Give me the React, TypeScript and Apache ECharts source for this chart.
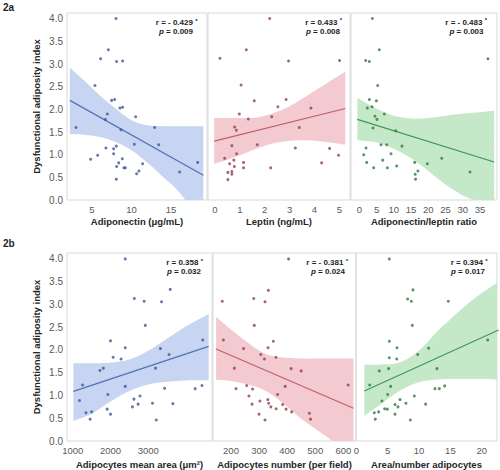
import React, { useEffect, useRef } from "react";
import * as echarts from "echarts";

const FONT = "'Liberation Sans', Arial, sans-serif";
const yTicks = [0, 0.5, 1, 1.5, 2, 2.5, 3, 3.5, 4];
const yTitle = "Dysfunctional adiposity index";

// ---- 2a: Adiponectin
const adipoTicks = [5, 10, 15];
const adipoX = [8.04, 7.07, 6.1, 8.12, 8.88, 5.38, 7.49, 7.87, 8.54, 8.88, 6.94, 6.69, 10.53, 2.97, 8.67, 12.93, 10.36, 13.44, 6.77, 8.08, 7.74, 4.83, 5.72, 7.74, 8.84, 8.38, 8.12, 9.05, 9.22, 11.41, 10.95, 10.65, 16.1, 18.38, 8.08];
const adipoY = [4.01, 3.32, 3.12, 3.06, 3.07, 2.53, 2.2, 2.22, 2.03, 2.05, 1.9, 1.78, 1.84, 1.6, 1.55, 1.6, 1.23, 1.22, 1.15, 1.19, 1.13, 0.9, 0.99, 1.02, 0.91, 0.82, 0.74, 0.71, 0.71, 0.8, 0.64, 0.58, 0.62, 0.83, 0.46];
const adipoFitX = [2.2, 19.1];
const adipoFitY = [2.2, 0.545];
const adipoBandX = [2.2, 4, 6, 8, 10, 12, 14, 16, 19.1];
const adipoBandUp = [2.92, 2.64, 2.31, 2.02, 1.76, 1.65, 1.63, 1.63, 1.63];
const adipoBandLo = [1.45, 1.44, 1.39, 1.28, 1.1, 0.83, 0.51, 0.18, -0.55];

// ---- 2a: Leptin
const leptinTicks = [0, 1, 2, 3, 4, 5];
const leptinX = [2.2, 1.26, 0.2, 2.96, 5.01, 1.05, 1.58, 2.86, 2.53, 3.86, 0.98, 1.34, 2.28, 0.79, 0.86, 3.39, 0.68, 1.7, 3.23, 4.61, 0.39, 0.87, 4.97, 0.59, 0.76, 1.15, 4.29, 0.78, 1.15, 2.24, 0.52, 0.68, 0.68, 0.52];
const leptinY = [4.01, 3.32, 3.13, 3.07, 3.08, 2.54, 2.19, 2.22, 2.06, 2.03, 1.9, 1.79, 1.84, 1.61, 1.54, 1.6, 1.2, 1.22, 1.15, 1.14, 0.92, 1.02, 0.99, 0.8, 0.88, 0.83, 0.82, 0.74, 0.71, 0.71, 0.61, 0.63, 0.57, 0.45];
const leptinFitX = [-0.03, 5.24];
const leptinFitY = [1.3, 2.02];
const leptinBandX = [-0.03, 0.5, 1, 1.5, 2, 2.5, 3, 3.5, 4, 4.5, 5.24];
const leptinBandUp = [1.81, 1.81, 1.81, 1.81, 1.86, 1.95, 2.07, 2.23, 2.41, 2.58, 2.83];
const leptinBandLo = [0.8, 0.89, 0.99, 1.1, 1.2, 1.27, 1.31, 1.32, 1.31, 1.28, 1.22];

// ---- 2a: Adiponectin/leptin ratio
const ratioTicks = [0, 5, 10, 15, 20, 25, 30, 35];
const ratioX = [3.78, 5.8, 1.85, 2.91, 37.3, 5.32, 2.91, 4.94, 2.33, 3.68, 7.25, 4.55, 5.13, 3.97, 10.54, 23.9, 1.94, 6.29, 7.93, 12.38, 1.27, 6.77, 9.19, 2.14, 4.16, 8.13, 10.83, 16.05, 19.72, 32.1, 17.0, 16.2, 16.3];
const ratioY = [4.01, 3.32, 3.08, 3.06, 3.12, 2.53, 2.22, 2.19, 2.03, 2.06, 1.9, 1.85, 1.78, 1.59, 1.53, 0.92, 1.15, 1.22, 1.22, 1.19, 1.0, 0.88, 1.02, 0.83, 0.71, 0.71, 0.75, 0.83, 0.8, 0.62, 0.64, 0.57, 0.46];
const ratioFitX = [-0.57, 39.1];
const ratioFitY = [1.78, 0.84];
const ratioBandX = [-0.57, 5, 10, 15, 20, 25, 30, 35, 39.1];
const ratioBandUp = [2.25, 2.02, 1.86, 1.8, 1.81, 1.86, 1.91, 1.94, 1.97];
const ratioBandLo = [1.32, 1.27, 1.13, 0.92, 0.64, 0.34, 0.1, -0.05, -0.22];

// ---- 2b: Adipocytes mean area
const areaTicks = [1000, 2000, 3000];
const areaX = [2390, 3580, 2630, 2890, 3350, 2920, 2000, 4440, 2390, 3320, 2070, 2280, 3550, 1720, 1810, 3190, 1260, 2390, 1180, 1930, 3430, 4240, 4420, 2620, 2780, 2580, 2730, 3110, 3650, 1910, 1350, 1500, 2000, 1460, 3210];
const areaY = [4.0, 3.33, 3.13, 3.07, 3.06, 2.54, 2.2, 2.22, 2.05, 2.03, 1.84, 1.8, 1.9, 1.55, 1.6, 1.6, 1.23, 1.2, 0.89, 1.02, 1.16, 1.15, 1.22, 0.92, 0.99, 0.75, 0.81, 0.83, 0.82, 0.7, 0.62, 0.64, 0.59, 0.48, 0.46];
const areaFitX = [1017, 4597];
const areaFitY = [1.09, 2.08];
const areaBandX = [1017, 1500, 2000, 2500, 3000, 3500, 4000, 4597];
const areaBandUp = [1.71, 1.71, 1.72, 1.79, 1.98, 2.25, 2.52, 2.79];
const areaBandLo = [0.44, 0.6, 0.87, 1.1, 1.24, 1.3, 1.33, 1.33];

// ---- 2b: Adipocytes number
const numberTicks = [200, 300, 400, 500, 600];
const numberX = [405, 333, 169, 281, 321, 283, 173, 245, 351, 332, 306, 319, 360, 212, 414, 450, 617, 218, 393, 256, 277, 264, 366, 331, 303, 275, 334, 384, 342, 361, 396, 416, 300, 479, 483, 321];
const numberY = [4.0, 3.31, 3.07, 3.13, 3.06, 2.54, 2.22, 2.03, 2.19, 2.05, 1.9, 1.8, 1.84, 1.6, 1.59, 1.54, 1.23, 1.15, 1.2, 1.22, 1.14, 0.99, 1.02, 0.91, 0.88, 0.81, 0.83, 0.8, 0.75, 0.71, 0.7, 0.64, 0.59, 0.61, 0.48, 0.46];
const numberFitX = [147, 636];
const numberFitY = [2.02, 0.72];
const numberBandX = [147, 200, 250, 300, 350, 400, 450, 500, 550, 636];
const numberBandUp = [2.73, 2.45, 2.21, 1.99, 1.86, 1.83, 1.81, 1.81, 1.81, 1.81];
const numberBandLo = [1.34, 1.32, 1.26, 1.17, 1.0, 0.75, 0.49, 0.27, 0.05, -0.37];

// ---- 2b: Area/number adipocytes
const anTicks = [0, 5, 10, 15, 20];
const anX = [5.26, 9.03, 8.18, 8.77, 14.67, 8.93, 5.26, 20.95, 6.48, 11.53, 5.26, 6.43, 9.78, 3.66, 5.15, 12.86, 2.12, 5.47, 4.99, 12.54, 13.23, 14.08, 9.25, 4.08, 6.96, 4.51, 4.94, 6.16, 6.64, 7.91, 11.05, 2.86, 3.55, 6.16, 3.02, 8.61];
const anY = [4.0, 3.32, 3.12, 3.07, 3.07, 2.54, 2.19, 2.22, 2.05, 2.04, 1.83, 1.8, 1.9, 1.54, 1.59, 1.59, 1.23, 1.2, 1.02, 1.15, 1.15, 1.21, 0.99, 0.88, 0.91, 0.71, 0.7, 0.8, 0.75, 0.83, 0.81, 0.62, 0.64, 0.59, 0.48, 0.46];
const anFitX = [1.27, 22.7];
const anFitY = [1.1, 2.44];
const anBandX = [1.27, 4, 7, 10, 13, 16, 19, 22.7];
const anBandUp = [1.68, 1.68, 1.73, 1.99, 2.42, 2.8, 3.15, 3.5];
const anBandLo = [0.55, 0.82, 1.11, 1.29, 1.35, 1.36, 1.36, 1.35];

const BLUE = { band: "rgb(199,213,243)", line: "#5371b8", dot: "#3e5597" };
const RED = { band: "rgb(243,202,208)", line: "#c25e6c", dot: "#8e3f4f" };
const GREEN = { band: "rgb(197,233,200)", line: "#3f9852", dot: "#2e7a3e" };

const panels = [
  { grid: { left: 67, top: 13, width: 140, height: 187 }, xMin: 1.84, xMax: 19.56, ticks: adipoTicks, name: "Adiponectin (μg/mL)", xs: adipoX, ys: adipoY, fitX: adipoFitX, fitY: adipoFitY, bX: adipoBandX, bUp: adipoBandUp, bLo: adipoBandLo, theme: BLUE, showY: true, r: "r = - 0.429 ", p: " = 0.009", rX: 197.5, pX: 193, rY: 22.7, pY: 32.5, nameGap: 16 },
  { grid: { left: 208, top: 13, width: 142, height: 187 }, xMin: -0.28, xMax: 5.43, ticks: leptinTicks, name: "Leptin (ng/mL)", xs: leptinX, ys: leptinY, fitX: leptinFitX, fitY: leptinFitY, bX: leptinBandX, bUp: leptinBandUp, bLo: leptinBandLo, theme: RED, showY: false, r: "r = 0.433 ", p: " = 0.008", rX: 342, pX: 340, rY: 22.2, pY: 32.2, nameGap: 16 },
  { grid: { left: 351, top: 13, width: 146, height: 187 }, xMin: -2.41, xMax: 39.92, ticks: ratioTicks, name: "Adiponectin/leptin ratio", xs: ratioX, ys: ratioY, fitX: ratioFitX, fitY: ratioFitY, bX: ratioBandX, bUp: ratioBandUp, bLo: ratioBandLo, theme: GREEN, showY: false, r: "r = - 0.483 ", p: " = 0.003", rX: 487, pX: 483.5, rY: 22.2, pY: 32.2, nameGap: 16 },
  { grid: { left: 67, top: 253, width: 145, height: 188 }, xMin: 849, xMax: 4685, ticks: areaTicks, name: "Adipocytes mean area (μm²)", xs: areaX, ys: areaY, fitX: areaFitX, fitY: areaFitY, bX: areaBandX, bUp: areaBandUp, bLo: areaBandLo, theme: BLUE, showY: true, r: "r = 0.358 ", p: " = 0.032", rX: 203, pX: 201, rY: 262.7, pY: 272.5, nameGap: 18 },
  { grid: { left: 213, top: 253, width: 143, height: 188 }, xMin: 136, xMax: 645, ticks: numberTicks, name: "Adipocytes number (per field)", xs: numberX, ys: numberY, fitX: numberFitX, fitY: numberFitY, bX: numberBandX, bUp: numberBandUp, bLo: numberBandLo, theme: RED, showY: false, r: "r = - 0.381 ", p: " = 0.024", rX: 348, pX: 345, rY: 262.7, pY: 272.5, nameGap: 18 },
  { grid: { left: 356, top: 253, width: 141, height: 188 }, xMin: -0.06, xMax: 22.44, ticks: anTicks, name: "Area/number adipocytes", xs: anX, ys: anY, fitX: anFitX, fitY: anFitY, bX: anBandX, bUp: anBandUp, bLo: anBandLo, theme: GREEN, showY: false, r: "r = 0.394 ", p: " = 0.017", rX: 487.5, pX: 485, rY: 262.7, pY: 272.5, nameGap: 18 },
];

// Catmull-Rom through pixel points -> cubic bezier path segments
function curveSegs(pts: number[][]): string {
  let d = "";
  for (let i = 0; i < pts.length - 1; i++) {
    const p0 = pts[Math.max(0, i - 1)];
    const p1 = pts[i];
    const p2 = pts[i + 1];
    const p3 = pts[Math.min(pts.length - 1, i + 2)];
    const c1x = p1[0] + (p2[0] - p0[0]) / 6;
    const c1y = p1[1] + (p2[1] - p0[1]) / 6;
    const c2x = p2[0] - (p3[0] - p1[0]) / 6;
    const c2y = p2[1] - (p3[1] - p1[1]) / 6;
    d += ` C${c1x},${c1y} ${c2x},${c2y} ${p2[0]},${p2[1]}`;
  }
  return d;
}

function buildOption() {
  const grid: any[] = [];
  const xAxis: any[] = [];
  const yAxis: any[] = [];
  const series: any[] = [];
  const title: any[] = [];
  const rich = {
    b: { fontSize: 8, fontWeight: "bold", color: "#1e1e1e", fontFamily: FONT },
    i: { fontSize: 8, fontWeight: "bold", fontStyle: "italic", color: "#1e1e1e", fontFamily: FONT },
    s: { fontSize: 6, color: "#1e1e1e", fontFamily: FONT, padding: [0, 0, 4, 0] },
  };
  panels.forEach((pn, i) => {
    grid.push({ ...pn.grid, show: true, borderColor: "#d9d9d9", borderWidth: 1, backgroundColor: "rgba(0,0,0,0)" });
    xAxis.push({
      gridIndex: i, type: "value", min: pn.xMin, max: pn.xMax,
      axisLine: { show: false }, axisTick: { show: false }, splitLine: { show: false },
      axisLabel: { customValues: pn.ticks, formatter: (v: number) => String(v), fontSize: 9.5, color: "#595959", margin: 4, fontFamily: FONT },
      name: pn.name, nameLocation: "middle", nameGap: pn.nameGap,
      nameTextStyle: { fontSize: 9.5, fontWeight: "bold", color: "#262626", fontFamily: FONT },
    });
    yAxis.push({
      gridIndex: i, type: "value", min: 0, max: 4.13,
      axisLine: { show: false }, axisTick: { show: false }, splitLine: { show: false },
      axisLabel: { show: pn.showY, customValues: yTicks, formatter: (v: number) => v.toFixed(1), fontSize: 10, color: "#595959", margin: 4, fontFamily: FONT },
      name: pn.showY ? yTitle : "", nameLocation: "middle", nameGap: 26,
      nameTextStyle: { fontSize: 9.5, fontWeight: "bold", color: "#262626", fontFamily: FONT },
    });
    const pnl = pn;
    series.push({
      type: "custom", xAxisIndex: i, yAxisIndex: i, silent: true, z: 1, clip: true,
      data: [[pnl.bX[0], pnl.bUp[0]]],
      renderItem: (params: any, api: any) => {
        const up = pnl.bX.map((x, k) => api.coord([x, pnl.bUp[k]]));
        const lo = pnl.bX.map((x, k) => api.coord([x, pnl.bLo[k]])).reverse();
        const d = `M${up[0][0]},${up[0][1]}` + curveSegs(up) + ` L${lo[0][0]},${lo[0][1]}` + curveSegs(lo) + " Z";
        const cs = params.coordSys;
        return {
          type: "path",
          shape: { pathData: d },
          style: { fill: pnl.theme.band, stroke: "none" },
          clipPath: { type: "rect", shape: { x: cs.x, y: cs.y, width: cs.width, height: cs.height } },
        };
      },
    });
    series.push({
      type: "line", xAxisIndex: i, yAxisIndex: i,
      data: pn.fitX.map((x, k) => [x, pn.fitY[k]]), symbol: "none",
      lineStyle: { color: pn.theme.line, width: 1.2 }, z: 3, silent: true,
    });
    series.push({
      type: "scatter", xAxisIndex: i, yAxisIndex: i,
      data: pn.xs.map((x, k) => [x, pn.ys[k]]), symbolSize: 3,
      itemStyle: { color: pn.theme.dot }, z: 4, silent: true,
    });
    title.push({
      text: `{b|${pn.r}}{s|*}`, right: 500 - pn.rX, top: pn.rY - 5, padding: 0,
      textStyle: { rich, fontSize: 8 },
    });
    title.push({
      text: `{i|p}{b|${pn.p}}`, right: 500 - pn.pX, top: pn.pY - 5, padding: 0,
      textStyle: { rich, fontSize: 8 },
    });
  });
  title.push({ text: "2a", left: 3, top: 2, padding: 0, textStyle: { fontSize: 10, fontWeight: "bold", fontFamily: FONT, color: "#1e1e1e" } });
  title.push({ text: "2b", left: 3, top: 238, padding: 0, textStyle: { fontSize: 10, fontWeight: "bold", fontFamily: FONT, color: "#1e1e1e" } });
  return { animation: false, backgroundColor: "#ffffff", title, grid, xAxis, yAxis, series };
}

export default function App() {
  const ref = useRef<HTMLDivElement>(null);
  useEffect(() => {
    if (!ref.current) return;
    const chart = echarts.init(ref.current, undefined, { renderer: "svg" });
    chart.setOption(buildOption() as any);
    return () => chart.dispose();
  }, []);
  return <div ref={ref} style={{ position: "absolute", left: 0, top: 0, width: 500, height: 470 }} />;
}
